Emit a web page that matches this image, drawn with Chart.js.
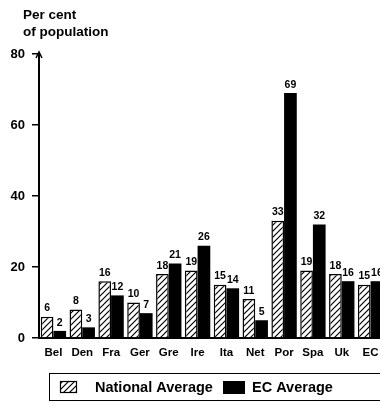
<!DOCTYPE html>
<html>
<head>
<meta charset="utf-8">
<script src="https://cdn.jsdelivr.net/npm/chart.js@4.4.1/dist/chart.umd.min.js"></script>
<style>
html,body{margin:0;padding:0;background:#fff;overflow:hidden;width:380px;height:409px;}
canvas{display:block;}
</style>
</head>
<body>
<canvas id="c" width="386" height="409"></canvas>
<script>
const categories = ['Bel','Den','Fra','Ger','Gre','Ire','Ita','Net','Por','Spa','Uk','EC'];
const nationalAverage = [6,8,16,10,18,19,15,11,33,19,18,15];
const ecAverage = [2,3,12,7,21,26,14,5,69,32,16,16];
const seriesNames = ['National Average','EC Average'];
const yTicks = [0,20,40,60,80];
const titleLines = ['Per cent','of population'];

const FONT = '"Liberation Sans", Arial, Helvetica, sans-serif';

function makeHatch(){
  const s = 6;
  const c = document.createElement('canvas');
  c.width = s; c.height = s;
  const g = c.getContext('2d');
  g.fillStyle = '#fff';
  g.fillRect(0,0,s,s);
  g.strokeStyle = '#000';
  g.lineWidth = 1.2;
  g.beginPath();
  g.moveTo(0,s); g.lineTo(s,0);
  g.moveTo(-s/2,s/2); g.lineTo(s/2,-s/2);
  g.moveTo(s/2,s*1.5); g.lineTo(s*1.5,s/2);
  g.stroke();
  return g.createPattern(c,'repeat');
}
const hatch = makeHatch();

const titlePlugin = {
  id:'titleText',
  afterDraw(chart){
    const ctx = chart.ctx;
    ctx.save();
    ctx.fillStyle = '#000';
    ctx.font = 'bold 13.5px ' + FONT;
    ctx.textBaseline = 'middle';
    ctx.textAlign = 'left';
    ctx.fillText(titleLines[0], 23, 15);
    ctx.fillText(titleLines[1], 23, 32);
    ctx.restore();
  }
};

const valueLabels = {
  id:'valueLabels',
  afterDatasetsDraw(chart){
    const ctx = chart.ctx;
    ctx.save();
    ctx.fillStyle = '#000';
    ctx.font = 'bold 10.5px ' + FONT;
    ctx.textAlign = 'center';
    ctx.textBaseline = 'bottom';
    chart.data.datasets.forEach((ds, di) => {
      const meta = chart.getDatasetMeta(di);
      meta.data.forEach((el, i) => {
        ctx.fillText(String(ds.data[i]), el.x, el.y - 3);
      });
    });
    ctx.restore();
  }
};

const axisArrow = {
  id:'axisArrow',
  afterDraw(chart){
    const ctx = chart.ctx;
    const x = chart.chartArea.left;
    const y = chart.chartArea.top;
    ctx.save();
    ctx.strokeStyle = '#000';
    ctx.lineWidth = 1.5;
    ctx.beginPath();
    ctx.moveTo(x-3, y+4); ctx.lineTo(x, y-2); ctx.lineTo(x+3, y+4);
    ctx.stroke();
    ctx.restore();
  }
};

const boxLegend = {
  id:'boxLegend',
  afterDraw(chart){
    const ctx = chart.ctx;
    const ds = chart.data.datasets;
    ctx.save();
    ctx.strokeStyle = '#000';
    ctx.lineWidth = 1;
    ctx.strokeRect(49.5, 373.5, 340, 27);
    ctx.fillStyle = ds[0].backgroundColor;
    ctx.fillRect(60, 381, 17, 12);
    ctx.lineWidth = 1.2;
    ctx.strokeRect(60.5, 381.5, 16, 11);
    ctx.fillStyle = '#000';
    ctx.font = 'bold 14.5px ' + FONT;
    ctx.textBaseline = 'middle';
    ctx.textAlign = 'left';
    ctx.fillText(ds[0].label, 95, 388);
    ctx.fillStyle = ds[1].backgroundColor;
    ctx.fillRect(223, 381, 22, 13);
    ctx.fillStyle = '#000';
    ctx.fillText(ds[1].label, 252, 388);
    ctx.restore();
  }
};

new Chart(document.getElementById('c'), {
  type:'bar',
  data:{
    labels: categories,
    datasets:[
      {label: seriesNames[0], data: nationalAverage, backgroundColor: hatch, borderColor:'#000', borderWidth:1.5, borderSkipped:'bottom', categoryPercentage:0.88, barPercentage:1.0},
      {label: seriesNames[1], data: ecAverage, backgroundColor:'#000', borderColor:'#000', borderWidth:0, categoryPercentage:0.88, barPercentage:1.0}
    ]
  },
  options:{
    responsive:false,
    animation:false,
    devicePixelRatio:1,
    layout:{padding:{top:54, right:1, bottom:44, left:0}},
    plugins:{legend:{display:false}, tooltip:{enabled:false}, title:{display:false}},
    scales:{
      x:{
        offset:true,
        grid:{display:false},
        border:{display:true, color:'#000', width:2},
        ticks:{color:'#000', font:{family:FONT, size:11.5, weight:'bold'}, padding:0, maxRotation:0, autoSkip:false},
        afterFit(scale){ scale.height = 27; }
      },
      y:{
        min:0, max:80,
        afterBuildTicks(scale){ scale.ticks = yTicks.map(v => ({value:v})); },
        grid:{drawOnChartArea:false, drawTicks:true, tickLength:7, color:'#000', lineWidth:1.5},
        border:{display:true, color:'#000', width:2},
        ticks:{color:'#000', font:{family:FONT, size:13, weight:'bold'}, padding:7},
        afterFit(scale){ scale.width = 39; }
      }
    }
  },
  plugins:[titlePlugin, valueLabels, axisArrow, boxLegend]
});
</script>
</body>
</html>
